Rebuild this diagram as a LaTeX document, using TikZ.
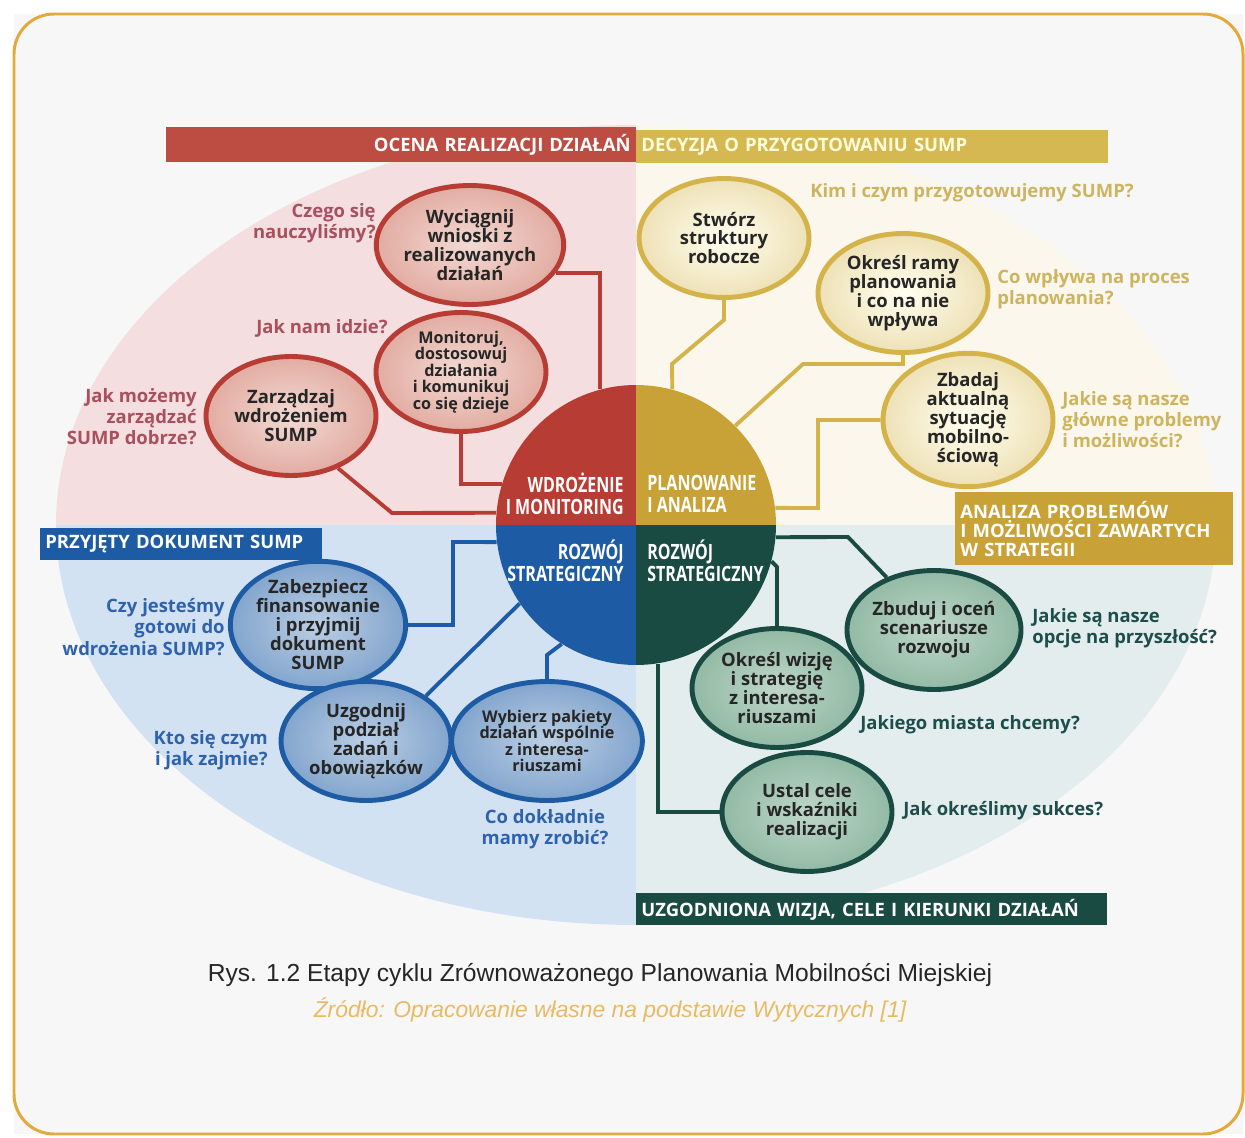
\documentclass[tikz,border=0pt]{standalone}
\usepackage[dvipsnames,svgnames]{xcolor}
\usepackage{fontspec}
\setmainfont{Open Sans}
\newfontfamily\condfont[FakeStretch=0.76]{Open Sans}
\newfontfamily\capfont{Liberation Sans}
\usetikzlibrary{shapes.geometric}

\definecolor{frameGold}{HTML}{E3A93C}
\definecolor{bgRed}{HTML}{F4DEDF}
\definecolor{bgGold}{HTML}{FBF7EC}
\definecolor{bgBlue}{HTML}{D3E2F3}
\definecolor{bgGreen}{HTML}{E4EDEE}
\definecolor{cRed}{HTML}{B73C33}
\definecolor{cGold}{HTML}{C8A236}
\definecolor{cBlue}{HTML}{1D5CA5}
\definecolor{cGreen}{HTML}{1A4B43}
\definecolor{lnGold}{HTML}{D4B44A}
\definecolor{qRed}{HTML}{A8505E}
\definecolor{qGold}{HTML}{CDB45E}
\definecolor{qBlue}{HTML}{2E63AC}
\definecolor{qGreen}{HTML}{1E4E4B}

\begin{document}
\begin{tikzpicture}[x=0.02cm,y=-0.02cm,
  bubble/.style={ellipse,line width=2.8pt,minimum width=3.4cm,minimum height=2.38cm,
    inner sep=0pt,align=center,text=black!85,
    font=\bfseries\fontsize{10.5}{10.8}\selectfont},
  small/.style={font=\bfseries\fontsize{9.2}{9.4}\selectfont},
  bRed/.style={bubble,draw=cRed,inner color={rgb,255:red,243;green,218;blue,212},outer color={rgb,255:red,226;green,172;blue,162}},
  bGold/.style={bubble,draw=lnGold,inner color=yellow!6!white,outer color=lnGold!40!white},
  bBlue/.style={bubble,draw=cBlue,inner color=cBlue!30!white,outer color=cBlue!55!white},
  bGreen/.style={bubble,draw=cGreen,inner color={rgb,255:red,190;green,214;blue,200},outer color={rgb,255:red,146;green,186;blue,165}},
  quest/.style={inner sep=0pt,font=\bfseries\fontsize{10.5}{12}\selectfont},
  bar/.style={inner sep=0.1cm,text=white,font=\bfseries\fontsize{10.5}{11}\selectfont},
  ctext/.style={inner sep=0pt,text=white,font=\condfont\bfseries\fontsize{12}{12.8}\selectfont},
  ln/.style={line width=2.2pt}]
\useasboundingbox (0,0) rectangle (1245,1138);
\fill[black!3] (14,14) rectangle (1243,1134);
\draw[frameGold,line width=1.7pt,rounded corners=0.8cm] (14,14) rectangle (1243,1134);

% tinted quarters behind the cycle
\begin{scope}
  \clip (636,525) ellipse [x radius=580, y radius=400];
  \fill[bgRed] (0,0) rectangle (636,525);
  \fill[bgGold] (636,0) rectangle (1245,525);
  \fill[bgBlue] (0,525) rectangle (636,1138);
  \fill[bgGreen] (636,525) rectangle (1245,1138);
\end{scope}

% header bars
\node[bar,fill=cRed!92!white,anchor=north east,text width=9.2cm,minimum height=0.7cm,align=right] (ocena) at (636,127) {OCENA REALIZACJI DZIAŁAŃ};
\node[bar,fill=lnGold!95!white,text=white!85!yellow,anchor=north west,text width=9.24cm,minimum height=0.66cm,align=left] (decyzja) at (636,130) {DECYZJA O PRZYGOTOWANIU SUMP};
\node[bar,fill=cGold,anchor=north west,text width=5.36cm,minimum height=1.46cm,align=left] (analiza) at (955,492) {ANALIZA PROBLEMÓW\\I MOŻLIWOŚCI ZAWARTYCH\\W STRATEGII};
\node[bar,fill=cBlue,anchor=north west,text width=5.44cm,minimum height=0.64cm,align=left] (przyjety) at (40,528) {PRZYJĘTY DOKUMENT SUMP};
\node[bar,fill=cGreen,anchor=north west,text width=9.22cm,minimum height=0.64cm,align=left] (uzgodniona) at (636,893) {UZGODNIONA WIZJA, CELE I KIERUNKI DZIAŁAŃ};

% bubbles
\node[bRed] (wyc) at (470,245) {Wyciągnij\\wnioski z\\realizowanych\\działań};
\node[bRed,small] (mon) at (461,372) {Monitoruj,\\dostosowuj\\działania\\i komunikuj\\co się dzieje};
\node[bRed] (zar) at (291,416) {Zarządzaj\\wdrożeniem\\SUMP};
\node[bGold] (str) at (724,238) {Stwórz\\struktury\\robocze};
\node[bGold] (ram) at (903,293) {Określ ramy\\planowania\\i co na nie\\wpływa};
\node[bGold] (zba) at (968,420) {Zbadaj\\aktualną\\sytuację\\mobilno-\\ściową};
\node[bBlue] (zab) at (318,625) {Zabezpiecz\\finansowanie\\i przyjmij\\dokument\\SUMP};
\node[bBlue] (uzg) at (366,741) {Uzgodnij\\podział\\zadań i\\obowiązków};
\node[bBlue,small] (wyb) at (547,741) {Wybierz pakiety\\działań wspólnie\\z interesa-\\riuszami};
\node[bGreen] (zbu) at (934,630) {Zbuduj i oceń\\scenariusze\\rozwoju};
\node[bGreen] (wiz) at (777,688) {Określ wizję\\i strategię\\z interesa-\\riuszami};
\node[bGreen] (ust) at (807,812) {Ustal cele\\i wskaźniki\\realizacji};

% central wheel
\node[circle,minimum size=5.6cm,inner sep=0pt,path picture={
  \fill[cRed] (path picture bounding box.north west) rectangle (path picture bounding box.center);
  \fill[cGold] (path picture bounding box.north east) rectangle (path picture bounding box.center);
  \fill[cBlue] (path picture bounding box.south west) rectangle (path picture bounding box.center);
  \fill[cGreen] (path picture bounding box.south east) rectangle (path picture bounding box.center);
}] (cen) at (636,525) {};

% connectors
\draw[ln,cRed] (wyc.-18) -| (cen.105);
\draw[ln,cRed] (mon.south) |- (cen.163);
\draw[ln,cRed] (zar.-48) -- (392,513) -- (cen.175);
\draw[ln,lnGold] (str.south) -- ++(0,20) -- (672,364) -- (cen.75);
\draw[ln,lnGold] (ram.south) |- (803,364) -- (cen.45);
\draw[ln,lnGold] (zba.west) -| (818,508) -- (cen.7);
\draw[ln,cBlue] (zab.east) -| (453,542) -- (cen.187);
\draw[ln,cBlue] (uzg.37) -- (cen.214);
\draw[ln,cBlue] (wyb.north) -- ++(0,-24) -- (cen.238);
\draw[ln,cGreen] (cen.-5) -- (848,537) -- (zbu.132);
\draw[ln,cGreen] (cen.-15) -- (777,567) -- (wiz.north);
\draw[ln,cGreen] (cen.-81) |- (ust.west);

\node[ctext,anchor=east,align=right] (wdr) at (624,494) {WDROŻENIE\\I MONITORING};
\node[ctext,anchor=west,align=left] (pla) at (647,494) {PLANOWANIE\\I ANALIZA};
\node[ctext,anchor=east,align=right] (rozL) at (624,561) {ROZWÓJ\\STRATEGICZNY};
\node[ctext,anchor=west,align=left] (rozR) at (647,561) {ROZWÓJ\\STRATEGICZNY};

% questions
\node[quest,qRed,anchor=east,align=right] (q1) at (376,223) {Czego się\\nauczyliśmy?};
\node[quest,qRed] (q2) at (322,328) {Jak nam idzie?};
\node[quest,qRed,anchor=east,align=right] (q3) at (197,417) {Jak możemy\\zarządzać\\SUMP dobrze?};
\node[quest,qGold,anchor=west] (q4) at (810,193) {Kim i czym przygotowujemy SUMP?};
\node[quest,qGold,anchor=west,align=left] (q5) at (997,289) {Co wpływa na proces\\planowania?};
\node[quest,qGold,anchor=west,align=left] (q6) at (1062,420) {Jakie są nasze\\główne problemy\\i możliwości?};
\node[quest,qBlue,anchor=east,align=right] (q7) at (225,627) {Czy jesteśmy\\gotowi do\\wdrożenia SUMP?};
\node[quest,qBlue,anchor=east,align=right] (q8) at (268,750) {Kto się czym\\i jak zajmie?};
\node[quest,qBlue,align=center] (q9) at (545,829) {Co dokładnie\\mamy zrobić?};
\node[quest,qGreen,anchor=west,align=left] (q10) at (1032,628) {Jakie są nasze\\opcje na przyszłość?};
\node[quest,qGreen,anchor=west] (q11) at (860,725) {Jakiego miasta chcemy?};
\node[quest,qGreen,anchor=west] (q12) at (903,811) {Jak określimy sukces?};

% caption
\node[inner sep=0pt,text=black!85,font=\capfont\fontsize{14}{16}\selectfont] (rys) at (600,975) {Rys. 1.2 Etapy cyklu Zrównoważonego Planowania Mobilności Miejskiej};
\node[inner sep=0pt,text=frameGold!80!white,font=\capfont\itshape\fontsize{13}{15}\selectfont] (zrodlo) at (610,1010) {Źródło: Opracowanie własne na podstawie Wytycznych [1]};
\end{tikzpicture}
\end{document}
